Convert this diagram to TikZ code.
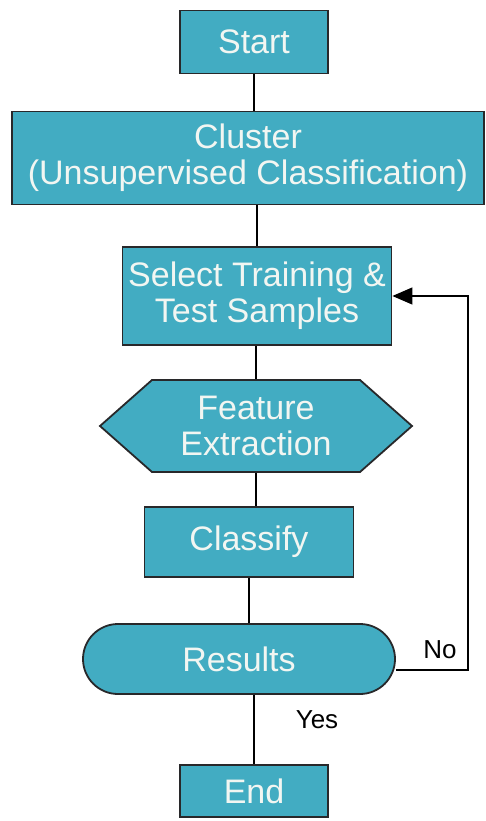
\documentclass[tikz,border=0pt]{standalone}
\usepackage{fontspec}
\setmainfont{Liberation Sans}
\usepackage{tikz}
\usetikzlibrary{shapes.symbols, arrows.meta, positioning, calc}
\definecolor{boxteal}{RGB}{66, 172, 194}
\definecolor{edgegray}{RGB}{40, 40, 42}
\definecolor{labelwhite}{RGB}{242, 246, 242}

\begin{document}
\begin{tikzpicture}[
    x=1pt, y=-1pt,
    box/.style={rectangle, draw=edgegray, line width=1.8pt, fill=boxteal, text=labelwhite, align=center, inner sep=0pt, font=\fontsize{34}{36}\selectfont},
    hexbox/.style={box, signal, signal to=west and east, signal pointer angle=83},
    pill/.style={box, rounded corners=35pt},
    line/.style={draw=black, line width=1.3pt},
    arrow/.style={line, -{Triangle[length=20pt, width=17pt]}},
    answer/.style={font=\fontsize{26}{28}\selectfont}
]
    \useasboundingbox (0,0) rectangle (486,821);

    \node[box, minimum width=148pt, minimum height=63pt] (start) at (254,42) {Start};
    \node[box, minimum width=472pt, minimum height=93pt] (clu) at (248,158) {Cluster\\(Unsupervised Classification)};
    \node[box, minimum width=269pt, minimum height=98pt] (sel) at (257,296) {Select Training \&\\Test Samples};
    \node[hexbox, minimum width=312pt, minimum height=92pt] (feat) at (256,426) {Feature\\Extraction};
    \node[box, minimum width=209pt, minimum height=70pt] (cls) at (249,542) {Classify};
    \node[pill, minimum width=312pt, minimum height=70pt] (res) at (239,659) {Results};
    \node[box, minimum width=148pt, minimum height=52pt] (end) at (254,791) {End};

    \node[answer] (no) at (440,650) {No};
    \node[answer] (yes) at (317,720) {Yes};
    \coordinate (fb) at (468,296);

    \draw[line] (start.south) -- (start.south |- clu.north);
    \draw[line] (sel.north |- clu.south) -- (sel.north);
    \draw[line] (feat.north |- sel.south) -- (feat.north);
    \draw[line] (feat.south) -- (feat.south |- cls.north);
    \draw[line] (cls.south) -- (cls.south |- res.north);
    \draw[line] (end.north |- res.south) -- (end.north);
    \draw[arrow] ([yshift=-11pt]res.east) -| (fb) -- (sel.east);
\end{tikzpicture}
\end{document}
